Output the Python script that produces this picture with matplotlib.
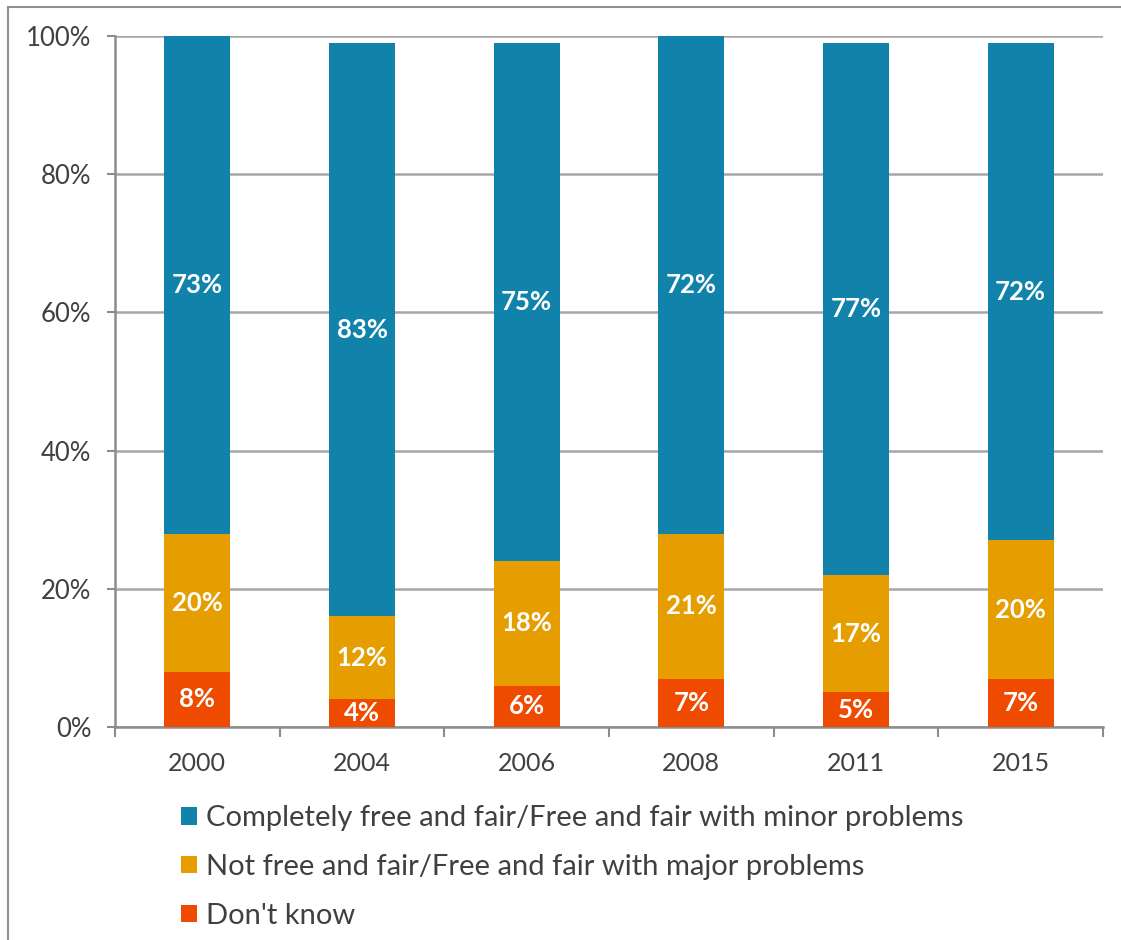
import numpy as np
import matplotlib.pyplot as plt
from matplotlib.lines import Line2D
from matplotlib.ticker import FuncFormatter

plt.rcParams['font.family'] = ['Lato', 'DejaVu Sans']

years = ['2000', '2004', '2006', '2008', '2011', '2015']
dont_know = [8, 4, 6, 7, 5, 7]
not_free = [20, 12, 18, 21, 17, 20]
free_fair = [73, 83, 75, 72, 77, 72]

series = [
    (dont_know, '#EF4B00', "Don't know"),
    (not_free, '#E59D00', 'Not free and fair/Free and fair with major problems'),
    (free_fair, '#1183AB', 'Completely free and fair/Free and fair with minor problems'),
]

fig = plt.figure(figsize=(11.21, 9.40), dpi=100)
ax = fig.add_axes([115/1121, 1 - 727/940, 988/1121, 691/940])

x = np.arange(len(years))
bottom = np.zeros(len(years))
handles = []
for vals, color, label in series:
    vals = np.array(vals, dtype=float)
    top = np.minimum(bottom + vals, 100)
    h = ax.bar(x, top - bottom, bottom=bottom, width=0.4, color=color,
               edgecolor='none', zorder=3, label=label)
    handles.append(h)
    for xi, b, t, v in zip(x, bottom, top, vals):
        ax.text(xi, (b + t) / 2, f'{int(v)}%', ha='center', va='center',
                color='white', fontsize=18.5, fontweight='bold', zorder=4)
    bottom = bottom + vals

ax.set_xlim(-0.5, len(years) - 0.5)
ax.set_ylim(0, 100)
ax.set_yticks(np.arange(0, 101, 20))
ax.yaxis.set_major_formatter(FuncFormatter(lambda v, p: f'{int(v)}%'))
ax.grid(axis='y', color='#a6a6a6', linewidth=1.8, zorder=1)
ax.set_xticks(x)
ax.set_xticklabels(years)
ax.set_xticks(np.arange(-0.5, len(years), 1), minor=True)
ax.tick_params(axis='x', which='major', length=0, pad=18, labelsize=18, labelcolor='#404040')
ax.tick_params(axis='x', which='minor', length=7, width=1.5, color='#8c8c8c', direction='out')
ax.tick_params(axis='y', length=6, width=1.5, color='#8c8c8c', labelsize=18.5,
               labelcolor='#404040', pad=11, direction='out')
for s in ['top', 'right']:
    ax.spines[s].set_visible(False)
for s in ['left', 'bottom']:
    ax.spines[s].set_color('#8c8c8c')
    ax.spines[s].set_linewidth(1.8)

leg = fig.legend(handles=handles[::-1], loc='upper left',
                 bbox_to_anchor=(155/1121, 1 - 779/940), frameon=False,
                 fontsize=21, labelcolor='#404040', handlelength=0.55, handleheight=0.55,
                 handletextpad=0.3, labelspacing=0.78)

# outer frame lines
fig.add_artist(Line2D([8/1121, 8/1121], [0, 1 - 7/940], transform=fig.transFigure,
                      color='#909090', linewidth=1.5))
fig.add_artist(Line2D([8/1121, 1], [1 - 7/940, 1 - 7/940], transform=fig.transFigure,
                      color='#909090', linewidth=1.5))

fig.savefig('out.png', dpi=100)
